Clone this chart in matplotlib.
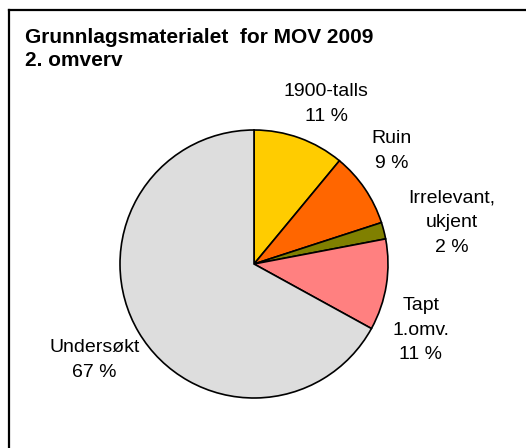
import matplotlib.pyplot as plt
from matplotlib.lines import Line2D
import numpy as np

plt.rcParams['font.family'] = ['Liberation Sans', 'DejaVu Sans']

# chart data
categories = ["1900-talls", "Ruin", "Irrelevant,\nukjent", "Tapt\n1.omv.", "Undersøkt"]
values = [11, 9, 2, 11, 67]
colors = ["#FFCC00", "#FF6600", "#808000", "#FF8080", "#DDDDDD"]

# label placement: (angle in degrees, distance in pie radii)
label_pos = [(65.7, 1.31), (39.3, 1.33), (11.7, 1.51), (-21.6, 1.34), (211.0, 1.39)]

W, H = 526, 448
cx, cy, R = 254, 264, 134

fig = plt.figure(figsize=(W / 100, H / 100), dpi=100)
ax = fig.add_axes([0, 0, 1, 1])

ax.pie(values, colors=colors, startangle=90, counterclock=False, radius=1,
       wedgeprops=dict(edgecolor="black", linewidth=1.2))

# pie() resets the limits, so set them afterwards
ax.set_xlim(-cx / R, (W - cx) / R)
ax.set_ylim(-(H - cy) / R, cy / R)
ax.set_aspect('equal')
ax.axis('off')

total = sum(values)
for cat, v, (ang, dist) in zip(categories, values, label_pos):
    a = np.deg2rad(ang)
    pct = round(100 * v / total)
    ax.text(dist * np.cos(a), dist * np.sin(a), f"{cat}\n{pct} %",
            ha="center", va="center", fontsize=14, linespacing=1.58)

# title
fig.text(25 / W, 1 - 28 / H, "Grunnlagsmaterialet  for MOV 2009\n2. omverv",
         ha="left", va="top", fontsize=15, fontweight="bold", linespacing=1.25)

# chart area border (right and bottom fall outside the image)
fig.add_artist(Line2D([8.5 / W, 8.5 / W], [0, 1 - 10 / H], color="black", lw=1.6))
fig.add_artist(Line2D([8.5 / W, 1], [1 - 10 / H, 1 - 10 / H], color="black", lw=1.6))

fig.savefig("out.png", dpi=100)
